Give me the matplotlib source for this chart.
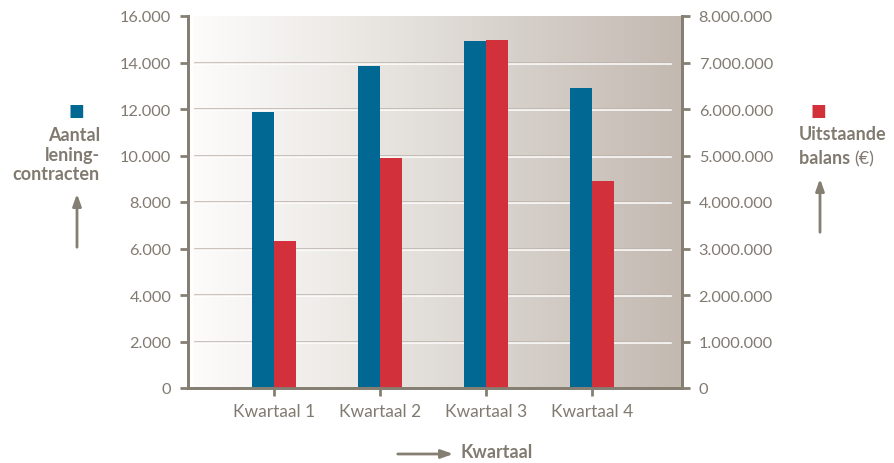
import numpy as np
import matplotlib.pyplot as plt
from matplotlib import transforms
from matplotlib.colors import LinearSegmentedColormap

quarters = ["Kwartaal 1", "Kwartaal 2", "Kwartaal 3", "Kwartaal 4"]
contracts = [11870, 13850, 14920, 12900]          # left axis
balance = [3160000, 4950000, 7480000, 4450000]    # right axis (€)

blue = "#006892"
red = "#d2303a"
grey = "#817a70"
axis_col = "#857e73"

plt.rcParams["font.family"] = ["Lato", "DejaVu Sans"]

fig = plt.figure(figsize=(8.95, 4.64), dpi=100)
ax = fig.add_axes([188 / 895, 1 - 389 / 464, 494 / 895, 372 / 464])
ax2 = ax.twinx()

x = np.arange(len(quarters))
w = 0.21

# background gradient
grad = np.linspace(0, 1, 256).reshape(1, -1)
cmap = LinearSegmentedColormap.from_list("bg", ["#fdfcfb", "#ebe8e4", "#d6d0ca", "#c3b9b1"])
ax.imshow(grad, cmap=cmap, aspect="auto", extent=[0.01, 1, 0, 1],
          transform=ax.transAxes, zorder=0)

ax.set_xlim(-0.811, 3.849)
ax.set_ylim(0, 16000)
ax2.set_ylim(0, 8000000)

# embossed grid lines
ytr = ax.get_yaxis_transform()
shift = transforms.offset_copy(ytr, fig=fig, x=0, y=-1.3, units="dots")
for v in range(2000, 16000, 2000):
    ax.plot([0.014, 0.978], [v, v], transform=ytr, color="#bdb3aa", lw=1.1, zorder=1)
    ax.plot([0.014, 0.978], [v, v], transform=shift, color="white", lw=1.1, zorder=1)

ax.bar(x - w / 2, contracts, w, color=blue, zorder=2)
ax2.bar(x + w / 2, balance, w, color=red, zorder=2)

ax.set_yticks(range(0, 16001, 2000))
ax.set_yticklabels([f"{v:,}".replace(",", ".") for v in range(0, 16001, 2000)])
ax2.set_yticks(range(0, 8000001, 1000000))
ax2.set_yticklabels([f"{v:,}".replace(",", ".") for v in range(0, 8000001, 1000000)])
ax.set_xticks(x)
ax.set_xticklabels(quarters)

for a in (ax, ax2):
    a.spines["top"].set_visible(False)
    for s in ("left", "right", "bottom"):
        a.spines[s].set_color(axis_col)
        a.spines[s].set_linewidth(2)
    a.tick_params(colors=axis_col, labelcolor=grey, labelsize=11.8, width=2, length=6, pad=6)
ax2.patch.set_visible(False)
ax.tick_params(axis="x", pad=5, labelsize=12.5)

# legend-like labels
fig.text(76 / 895, 1 - 111 / 464, "■", color=blue, fontsize=12, ha="center", va="center",
         family="DejaVu Sans")
fig.text(100 / 895, 1 - 155 / 464, "Aantal\nlening-\ncontracten", color=grey, fontsize=13,
         fontweight="bold", ha="right", va="center", linespacing=1.15)
fig.text(818 / 895, 1 - 111 / 464, "■", color=red, fontsize=12, ha="center", va="center",
         family="DejaVu Sans")
fig.text(799 / 895, 1 - 135 / 464, "Uitstaande", color=grey, fontsize=13,
         fontweight="bold", ha="left", va="center")
t = fig.text(799 / 895, 1 - 159 / 464, "balans ", color=grey, fontsize=13,
             fontweight="bold", ha="left", va="center")
fig.canvas.draw()
bb = t.get_window_extent()
fig.text(bb.x1 / 895, 1 - 159 / 464, "(€)", color=grey, fontsize=13, ha="left", va="center")
fig.text(533 / 895, 1 - 453 / 464, "Kwartaal", color=grey, fontsize=13,
         fontweight="bold", ha="right", va="center")

arrow = dict(arrowstyle="-|>,head_length=0.7,head_width=0.25", color=axis_col, lw=2)
ax.annotate("", xy=(77 / 895, 1 - 192 / 464), xytext=(77 / 895, 1 - 251 / 464),
            xycoords="figure fraction", arrowprops=arrow)
ax.annotate("", xy=(820 / 895, 1 - 177 / 464), xytext=(820 / 895, 1 - 236 / 464),
            xycoords="figure fraction", arrowprops=arrow)
ax.annotate("", xy=(456 / 895, 1 - 455 / 464), xytext=(395 / 895, 1 - 455 / 464),
            xycoords="figure fraction", arrowprops=arrow)

fig.savefig("out.png", dpi=100)
